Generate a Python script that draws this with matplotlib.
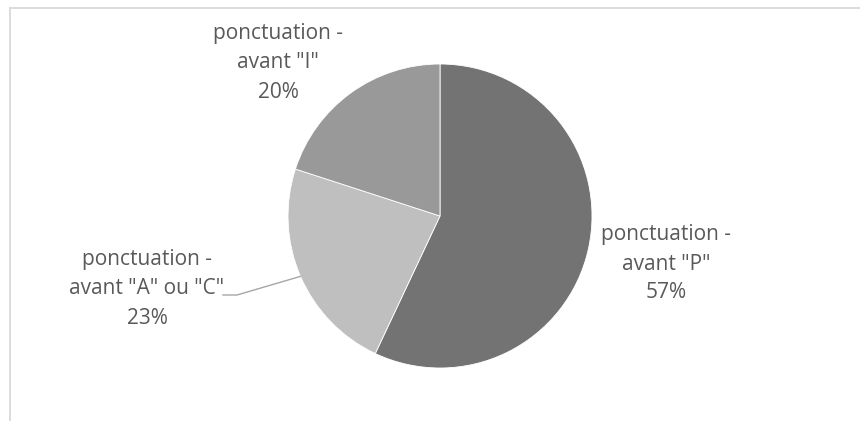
import matplotlib
matplotlib.use("Agg")
import matplotlib.pyplot as plt
import numpy as np

categories = ['ponctuation -\navant "P"', 'ponctuation -\navant "A" ou "C"', 'ponctuation -\navant "I"']
values = [57, 23, 20]
pct_labels = ["57%", "23%", "20%"]
colors = ["#737373", "#BFBFBF", "#999999"]

W, H = 860, 421
fig = plt.figure(figsize=(W / 100, H / 100), dpi=100)
fig.patch.set_facecolor("white")

cx, cy, r = 440, 216, 152
ax = fig.add_axes([(cx - r) / W, (H - cy - r) / H, 2 * r / W, 2 * r / H])

wedges, _ = ax.pie(values, colors=colors, startangle=90, counterclock=False,
                   radius=1, wedgeprops=dict(edgecolor="white", linewidth=0.6))
ax.set_xlim(-1, 1)
ax.set_ylim(-1, 1)
ax.set_aspect("equal")
ax.axis("off")

def px2d(px, py):
    return (px - cx) / r, (cy - py) / r

label_pos = [px2d(666, 264), px2d(147, 289), px2d(278, 63)]
txtcolor = "#595959"
for cat, pct, (lx, ly) in zip(categories, pct_labels, label_pos):
    ax.text(lx, ly, cat + "\n" + pct, ha="center", va="center", fontsize=15,
            family="Open Sans", color=txtcolor, linespacing=1.5, clip_on=False)

# leader line for the A/C slice
w = wedges[1]
mid = np.deg2rad((w.theta1 + w.theta2) / 2)
ex, ey = np.cos(mid), np.sin(mid)
sx, sy = px2d(223, 295)
kx, ky = px2d(237, 295)
ax.plot([sx, kx, ex], [sy, ky, ey], color="#A6A6A6", lw=1.0, clip_on=False,
        solid_joinstyle="miter")

# chart frame (top and left edges visible)
fig.add_artist(plt.Line2D([10 / W, 1.0], [1 - 8 / H, 1 - 8 / H], color="#D9D9D9", lw=1.3))
fig.add_artist(plt.Line2D([10 / W, 10 / W], [0, 1 - 8 / H], color="#D9D9D9", lw=1.3))

fig.savefig("out.png", dpi=100, facecolor="white")
